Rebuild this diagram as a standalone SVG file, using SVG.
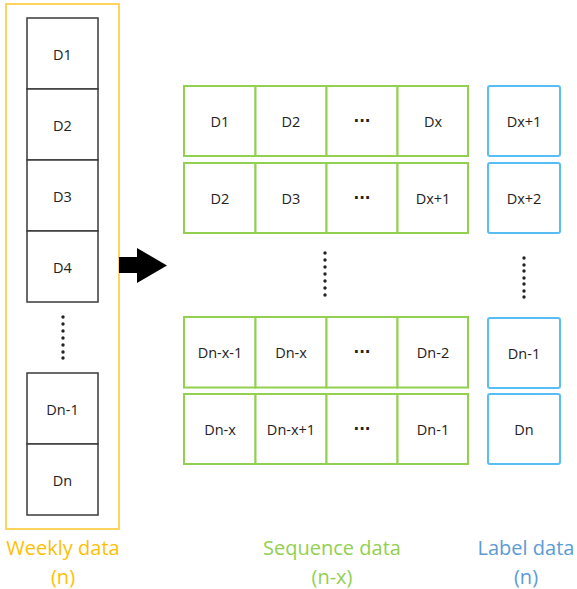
<svg xmlns="http://www.w3.org/2000/svg" width="577" height="589" viewBox="0 0 577 589">
<style>
.t{font-family:"Open Sans","Liberation Sans",sans-serif;font-size:14.5px;fill:#222;text-anchor:middle;dominant-baseline:central}
.e{font-family:"DejaVu Sans",sans-serif;font-size:15px;font-weight:bold;fill:#222;text-anchor:middle;dominant-baseline:central}
.wk{fill:#fff;stroke:#3a3a3a;stroke-width:1.5}
.sq{fill:#fff;stroke:#92D050;stroke-width:2}
.lb{fill:#fff;stroke:#56BDF5;stroke-width:2}
.cap{font-family:"Open Sans","Liberation Sans",sans-serif;font-size:20px;text-anchor:middle}
</style>
<rect width="577" height="589" fill="#fff"/>
<g id="weekly">
<rect x="6" y="4" width="113" height="525" fill="#fff" stroke="#FFD35C" stroke-width="2"/>
<g id="w1"><rect class="wk" x="27" y="18" width="71" height="71"/><text class="t" x="62.5" y="54">D1</text></g>
<g id="w2"><rect class="wk" x="27" y="89" width="71" height="71"/><text class="t" x="62.5" y="125">D2</text></g>
<g id="w3"><rect class="wk" x="27" y="160" width="71" height="71"/><text class="t" x="62.5" y="196">D3</text></g>
<g id="w4"><rect class="wk" x="27" y="231" width="71" height="71"/><text class="t" x="62.5" y="267">D4</text></g>
<g id="wdots" fill="#222"><circle cx="63" cy="317" r="1.7"/><circle cx="63" cy="324" r="1.7"/><circle cx="63" cy="331" r="1.7"/><circle cx="63" cy="338" r="1.7"/><circle cx="63" cy="345" r="1.7"/><circle cx="63" cy="352" r="1.7"/><circle cx="63" cy="358" r="1.7"/></g>
<g id="w5"><rect class="wk" x="27" y="373" width="71" height="71"/><text class="t" x="62.5" y="409">Dn-1</text></g>
<g id="w6"><rect class="wk" x="27" y="444" width="71" height="71"/><text class="t" x="62.5" y="480">Dn</text></g>
</g>
<g id="connectors">
<polygon points="119,257 137,257 137,248 167,265.5 137,283 137,273 119,273" fill="#000"/>
</g>
<g id="sequence">
<g id="r1">
<rect class="sq" x="184" y="86" width="71.5" height="70"/><text class="t" x="220" y="121">D1</text>
<rect class="sq" x="255.5" y="86" width="71" height="70"/><text class="t" x="291" y="121">D2</text>
<rect class="sq" x="326.5" y="86" width="71" height="70"/><text class="e" x="362" y="120.5">···</text>
<rect class="sq" x="397.5" y="86" width="70.5" height="70"/><text class="t" x="433" y="121">Dx</text>
</g>
<g id="r2">
<rect class="sq" x="184" y="163" width="71.5" height="70"/><text class="t" x="220" y="198">D2</text>
<rect class="sq" x="255.5" y="163" width="71" height="70"/><text class="t" x="291" y="198">D3</text>
<rect class="sq" x="326.5" y="163" width="71" height="70"/><text class="e" x="362" y="197.5">···</text>
<rect class="sq" x="397.5" y="163" width="70.5" height="70"/><text class="t" x="433" y="198">Dx+1</text>
</g>
<g id="sdots" fill="#222"><circle cx="325" cy="253" r="1.7"/><circle cx="325" cy="260" r="1.7"/><circle cx="325" cy="267" r="1.7"/><circle cx="325" cy="274" r="1.7"/><circle cx="325" cy="281" r="1.7"/><circle cx="325" cy="288" r="1.7"/><circle cx="325" cy="295" r="1.7"/></g>
<g id="r3">
<rect class="sq" x="184" y="317" width="71.5" height="70.5"/><text class="t" x="220" y="352">Dn-x-1</text>
<rect class="sq" x="255.5" y="317" width="71" height="70.5"/><text class="t" x="291" y="352">Dn-x</text>
<rect class="sq" x="326.5" y="317" width="71" height="70.5"/><text class="e" x="362" y="351.5">···</text>
<rect class="sq" x="397.5" y="317" width="70.5" height="70.5"/><text class="t" x="433" y="352">Dn-2</text>
</g>
<g id="r4">
<rect class="sq" x="184" y="394" width="71.5" height="70"/><text class="t" x="220" y="429">Dn-x</text>
<rect class="sq" x="255.5" y="394" width="71" height="70"/><text class="t" x="291" y="429">Dn-x+1</text>
<rect class="sq" x="326.5" y="394" width="71" height="70"/><text class="e" x="362" y="428.5">···</text>
<rect class="sq" x="397.5" y="394" width="70.5" height="70"/><text class="t" x="433" y="429">Dn-1</text>
</g>
</g>
<g id="label">
<g id="l1"><rect class="lb" x="488" y="86" width="72" height="70" rx="2"/><text class="t" x="524" y="121">Dx+1</text></g>
<g id="l2"><rect class="lb" x="488" y="163" width="72" height="70" rx="2"/><text class="t" x="524" y="198">Dx+2</text></g>
<g id="ldots" fill="#222"><circle cx="524" cy="258" r="1.7"/><circle cx="524" cy="265" r="1.7"/><circle cx="524" cy="271" r="1.7"/><circle cx="524" cy="278" r="1.7"/><circle cx="524" cy="284" r="1.7"/><circle cx="524" cy="291" r="1.7"/><circle cx="524" cy="297" r="1.7"/></g>
<g id="l3"><rect class="lb" x="488" y="318" width="72" height="70" rx="2"/><text class="t" x="524" y="353">Dn-1</text></g>
<g id="l4"><rect class="lb" x="488" y="394" width="72" height="70" rx="2"/><text class="t" x="524" y="429">Dn</text></g>
</g>
<g id="captions">
<text class="cap" x="63" y="555" fill="#FFC000">Weekly data</text>
<text class="cap" x="63" y="584" fill="#FFC000">(n)</text>
<text class="cap" x="332" y="555" fill="#92D050">Sequence data</text>
<text class="cap" x="332" y="584" fill="#92D050">(n-x)</text>
<text class="cap" x="526" y="555" fill="#5B9BD5">Label data</text>
<text class="cap" x="526" y="584" fill="#5B9BD5">(n)</text>
</g>
</svg>
